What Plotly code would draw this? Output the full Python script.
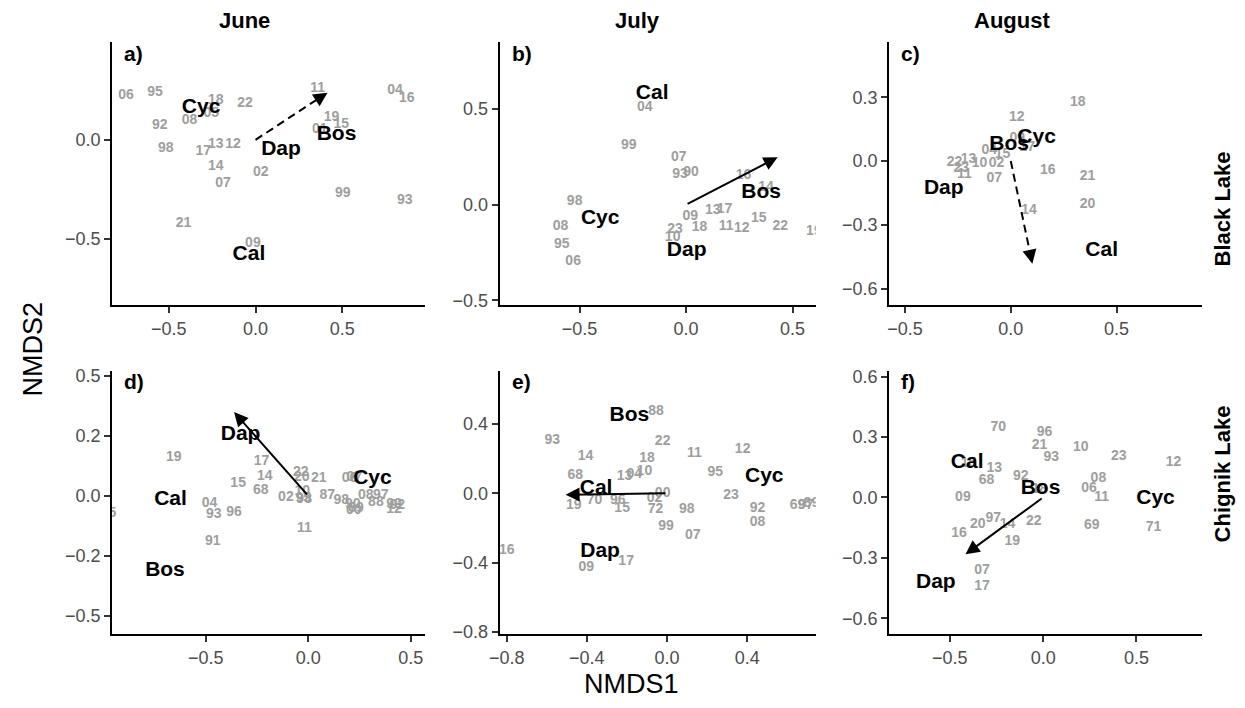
import plotly.graph_objects as go

# ---------------- DATA ----------------
months = ["June", "July", "August"]
lakes = ["Black Lake", "Chignik Lake"]
panel_tags = ["a)", "b)", "c)", "d)", "e)", "f)"]
species = ["Bos", "Cal", "Cyc", "Dap"]

# a) June, Black Lake
a_site = ["06", "95", "92", "98", "08", "05", "18", "22", "17", "13", "12", "14", "07", "02", "21", "09",
          "11", "19", "15", "01", "99", "04", "16", "93"]
a_x = [-0.747, -0.579, -0.552, -0.518, -0.381, -0.255, -0.229, -0.061, -0.301, -0.229, -0.130, -0.229,
       -0.187, 0.030, -0.415, -0.015, 0.358, 0.438, 0.495, 0.371, 0.503, 0.804, 0.872, 0.861]
a_y = [0.226, 0.238, 0.073, -0.046, 0.099, 0.135, 0.196, 0.185, -0.058, -0.026, -0.026, -0.137,
       -0.219, -0.165, -0.421, -0.525, 0.259, 0.111, 0.078, 0.053, -0.272, 0.251, 0.210, -0.307]
a_sp_x = [0.467, -0.038, -0.314, 0.147]
a_sp_y = [0.028, -0.582, 0.160, -0.050]
a_arrow = [0.415, 0.238]

# b) July, Black Lake
b_site = ["04", "99", "07", "93", "90", "16", "14", "98", "08", "95", "06", "09", "13", "17", "23", "10",
          "18", "11", "12", "15", "22", "19"]
b_x = [-0.194, -0.269, -0.034, -0.028, 0.023, 0.270, 0.375, -0.523, -0.589, -0.583, -0.530, 0.020,
       0.125, 0.180, -0.052, -0.063, 0.063, 0.188, 0.261, 0.341, 0.442, 0.600]
b_y = [0.510, 0.308, 0.248, 0.159, 0.166, 0.154, 0.089, 0.017, -0.116, -0.209, -0.300, -0.063,
       -0.029, -0.026, -0.132, -0.171, -0.120, -0.116, -0.127, -0.074, -0.116, -0.142]
b_sp_x = [0.352, -0.159, -0.403, 0.003]
b_sp_y = [0.063, 0.582, -0.074, -0.243]
b_arrow = [0.430, 0.248]

# c) August, Black Lake
c_site = ["18", "12", "09", "17", "04", "15", "02", "22", "13", "10", "23", "11", "07", "16", "21", "20", "14"]
c_x = [0.317, 0.028, 0.031, 0.078, -0.102, -0.039, -0.067, -0.266, -0.200, -0.148, -0.234, -0.219,
       -0.078, 0.175, 0.363, 0.363, 0.086]
c_y = [0.277, 0.203, 0.106, 0.065, 0.049, 0.029, -0.012, -0.005, 0.006, -0.012, -0.035, -0.063,
       -0.082, -0.046, -0.074, -0.202, -0.232]
c_sp_x = [-0.008, 0.430, 0.122, -0.317]
c_sp_y = [0.077, -0.420, 0.111, -0.132]
c_arrow = [0.102, -0.482]

# d) June, Chignik Lake
d_site = ["19", "17", "14", "15", "68", "22", "20", "21", "02", "10", "95", "98", "87", "04", "93", "96",
          "91", "11", "05", "06", "07", "98", "90", "89", "00", "08", "97", "88", "99", "12", "92"]
d_x = [-0.656, -0.228, -0.212, -0.342, -0.232, -0.037, -0.032, 0.051, -0.109, -0.029, -0.024, -0.020,
       0.093, -0.482, -0.461, -0.362, -0.466, -0.019, -0.975, 0.201, 0.225, 0.161, 0.217, 0.233, 0.222,
       0.281, 0.354, 0.330, 0.418, 0.418, 0.434]
d_y = [0.160, 0.144, 0.079, 0.051, 0.023, 0.096, 0.075, 0.073, -0.007, 0.018, -0.011, -0.014,
       0.000, -0.032, -0.078, -0.071, -0.192, -0.137, -0.075, 0.071, 0.075, -0.021, -0.034, -0.052,
       -0.062, 0.000, 0.003, -0.027, -0.034, -0.055, -0.041]
d_sp_x = [-0.699, -0.672, 0.313, -0.330]
d_sp_y = [-0.311, -0.016, 0.071, 0.254]
d_arrow = [-0.362, 0.350]

# e) July, Chignik Lake
e_site = ["88", "93", "22", "14", "18", "11", "12", "95", "13", "04", "10", "68", "23", "00", "02", "19",
          "70", "96", "15", "72", "98", "92", "08", "99", "07", "69", "97", "89", "16", "17", "09"]
e_x = [-0.055, -0.573, -0.022, -0.407, -0.100, 0.136, 0.377, 0.241, -0.212, -0.163, -0.113, -0.458,
       0.319, -0.022, -0.063, -0.465, -0.362, -0.246, -0.224, -0.058, 0.098, 0.451, 0.451, -0.005,
       0.128, 0.651, 0.692, 0.720, -0.800, -0.204, -0.403]
e_y = [0.471, 0.306, 0.297, 0.212, 0.199, 0.231, 0.255, 0.117, 0.098, 0.108, 0.127, 0.102,
       -0.015, 0.000, -0.030, -0.068, -0.043, -0.043, -0.087, -0.091, -0.091, -0.087, -0.166, -0.189,
       -0.242, -0.072, -0.072, -0.060, -0.333, -0.393, -0.427]
e_sp_x = [-0.188, -0.354, 0.485, -0.334]
e_sp_y = [0.448, 0.028, 0.095, -0.340]
e_arrow = [-0.506, -0.009]

# f) August, Chignik Lake
f_site = ["70", "96", "21", "93", "10", "23", "12", "15", "13", "68", "92", "18", "08", "06", "11", "09",
          "20", "97", "14", "22", "69", "71", "16", "19", "07", "17"]
f_x = [-0.241, 0.007, -0.019, 0.044, 0.202, 0.405, 0.699, -0.400, -0.262, -0.303, -0.120, -0.020,
       0.296, 0.246, 0.313, -0.430, -0.350, -0.267, -0.191, -0.050, 0.260, 0.591, -0.451, -0.165,
       -0.327, -0.327]
f_y = [0.347, 0.321, 0.257, 0.199, 0.249, 0.204, 0.174, 0.170, 0.142, 0.086, 0.103, 0.040,
       0.093, 0.044, 0.000, 0.000, -0.134, -0.103, -0.134, -0.119, -0.138, -0.148, -0.179, -0.220,
       -0.363, -0.443]
f_sp_x = [-0.014, -0.407, 0.602, -0.575]
f_sp_y = [0.041, 0.174, -0.005, -0.423]
f_arrow = [-0.416, -0.282]

arrow_dashed = [True, False, True, False, False, False]

# ---------------- LAYOUT ----------------
W, H = 1245, 708
FONT = "Liberation Sans, Arial, Helvetica, sans-serif"
MINUS = "\u2212"

panels = [
    (a_site, a_x, a_y, a_sp_x, a_sp_y, a_arrow),
    (b_site, b_x, b_y, b_sp_x, b_sp_y, b_arrow),
    (c_site, c_x, c_y, c_sp_x, c_sp_y, c_arrow),
    (d_site, d_x, d_y, d_sp_x, d_sp_y, d_arrow),
    (e_site, e_x, e_y, e_sp_x, e_sp_y, e_arrow),
    (f_site, f_x, f_y, f_sp_x, f_sp_y, f_arrow),
]
# pixel boxes (left, right, top, bottom)
boxes = [(102, 418, 38, 306), (493, 812, 38, 306), (886, 1202, 38, 306),
         (102, 418, 373, 641), (493, 812, 373, 641), (886, 1202, 373, 641)]
xranges = [[-0.827, 0.979], [-0.875, 0.609], [-0.575, 0.906],
           [-0.957, 0.571], [-0.835, 0.742], [-0.825, 0.853]]
yranges = [[-0.835, 0.492], [-0.527, 0.849], [-0.678, 0.558],
           [-0.578, 0.521], [-0.813, 0.704], [-0.679, 0.627]]
xticks = [[-0.5, 0, 0.5], [-0.5, 0, 0.5], [-0.5, 0, 0.5],
          [-0.5, 0, 0.5], [-0.8, -0.4, 0, 0.4], [-0.5, 0, 0.5]]
yticks = [[-0.5, 0], [-0.5, 0, 0.5], [-0.6, -0.3, 0, 0.3],
          [-0.5, -0.25, 0, 0.25, 0.5], [-0.8, -0.4, 0, 0.4], [-0.6, -0.3, 0, 0.3, 0.6]]


def fmt(v):
    s = "%.1f" % abs(v)
    if abs(v) == 0.25:
        s = "0.2"
    return (MINUS + s) if v < 0 else s


fig = go.Figure()
layout = dict(width=W, height=H, margin=dict(l=0, r=0, t=0, b=0),
              paper_bgcolor="white", plot_bgcolor="white", showlegend=False,
              font=dict(family=FONT))
annotations = []

for i, (site, sx, sy, spx, spy, arr) in enumerate(panels):
    n = i + 1
    xa = "xaxis" if n == 1 else "xaxis%d" % n
    ya = "yaxis" if n == 1 else "yaxis%d" % n
    xr = "x" if n == 1 else "x%d" % n
    yr = "y" if n == 1 else "y%d" % n
    L, R, T, B = boxes[i]
    axis_common = dict(showline=True, linecolor="black", linewidth=2, ticks="outside",
                       ticklen=6, tickwidth=2, tickcolor="#333333", showgrid=False, zeroline=False,
                       tickfont=dict(family=FONT, size=18, color="#4d4d4d"), mirror=False,
                       tickmode="array", fixedrange=True)
    layout[xa] = dict(axis_common, domain=[L / W, R / W], range=xranges[i], anchor=yr,
                      tickvals=xticks[i], ticktext=[fmt(v) for v in xticks[i]])
    layout[ya] = dict(axis_common, domain=[1 - B / H, 1 - T / H], range=yranges[i], anchor=xr,
                      tickvals=yticks[i], ticktext=[fmt(v) for v in yticks[i]])

    # site labels (grey)
    fig.add_trace(go.Scatter(x=sx, y=sy, text=site, mode="text", xaxis=xr, yaxis=yr,
                             textposition="middle center", cliponaxis=True,
                             textfont=dict(family=FONT, size=14, color="#9e9e9e", weight="bold"),
                             hoverinfo="skip"))
    # species labels (black)
    fig.add_trace(go.Scatter(x=spx, y=spy, text=species, mode="text", xaxis=xr, yaxis=yr,
                             textposition="middle center", cliponaxis=True,
                             textfont=dict(family=FONT, size=21, color="black", weight="bold"),
                             hoverinfo="skip"))

    # arrows
    px_per_x = (R - L) / (xranges[i][1] - xranges[i][0])
    px_per_y = (B - T) / (yranges[i][1] - yranges[i][0])
    hx, hy = arr
    dxp, dyp = hx * px_per_x, hy * px_per_y
    lenp = (dxp ** 2 + dyp ** 2) ** 0.5
    if arrow_dashed[i]:
        back = 10.0 / lenp
        tx, ty = hx * (1 - back), hy * (1 - back)
        fig.add_trace(go.Scatter(x=[0, tx], y=[0, ty], mode="lines", xaxis=xr, yaxis=yr,
                                 line=dict(color="black", width=2, dash="8px,5px"), hoverinfo="skip"))
    else:
        tx, ty = 0, 0
    annotations.append(dict(x=hx, y=hy, ax=tx, ay=ty, xref=xr, yref=yr, axref=xr, ayref=yr,
                            text="", showarrow=True, arrowhead=2, arrowsize=1.4, arrowwidth=2,
                            arrowcolor="black"))
    # panel tag
    annotations.append(dict(x=(L + 10) / W, y=1 - (T + 11) / H, xref="paper", yref="paper",
                            text=panel_tags[i], showarrow=False, xanchor="left", yanchor="middle",
                            font=dict(family=FONT, size=21, color="black", weight="bold")))

# column titles
for name, cx in zip(months, [236, 632, 1010]):
    annotations.append(dict(x=cx / W, y=1 - 16 / H, xref="paper", yref="paper", text=name,
                            showarrow=False, xanchor="center", yanchor="middle",
                            font=dict(family=FONT, size=22, color="black", weight="bold")))
# row titles
for name, cy in zip(lakes, [208, 478]):
    annotations.append(dict(x=1222 / W, y=1 - cy / H, xref="paper", yref="paper", text=name,
                            showarrow=False, xanchor="center", yanchor="middle", textangle=-90,
                            font=dict(family=FONT, size=22, color="black", weight="bold")))
# axis titles
annotations.append(dict(x=626 / W, y=1 - 692 / H, xref="paper", yref="paper", text="NMDS1",
                        showarrow=False, xanchor="center", yanchor="middle",
                        font=dict(family=FONT, size=27, color="black")))
annotations.append(dict(x=22 / W, y=1 - 350 / H, xref="paper", yref="paper", text="NMDS2",
                        showarrow=False, xanchor="center", yanchor="middle", textangle=-90,
                        font=dict(family=FONT, size=27, color="black")))

layout["annotations"] = annotations
fig.update_layout(**layout)
fig.write_html("out.html")
